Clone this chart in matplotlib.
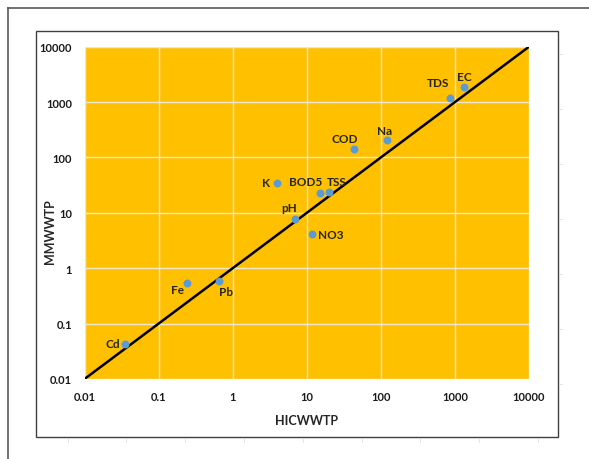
import numpy as np
import matplotlib.pyplot as plt
from matplotlib.patches import Rectangle
from matplotlib.lines import Line2D

# parameter values: HICWWTP (x) vs MMWWTP (y)
names = ['Cd', 'Fe', 'Pb', 'K', 'pH', 'NO3', 'BOD5', 'TSS', 'COD', 'Na', 'TDS', 'EC']
hicwwtp = [0.035, 0.24, 0.65, 4.0, 7.0, 11.8, 14.9, 20.0, 44, 121, 860, 1340]
mmwwtp = [0.043, 0.55, 0.58, 34, 7.7, 4.1, 23, 24, 144, 203, 1165, 1840]
# label offsets (pixels)
label_dx = [-12, -9, 7, -11, -6, 19, -14, 8, -10, -2, -12, 0]
label_dy = [0, -7, -10, 1, 12, 0, 11, 10, 10, 10, 16, 11]

decades = [0.01, 0.1, 1, 10, 100, 1000, 10000]
decade_labels = ['0.01', '0.1', '1', '10', '100', '1000', '10000']

plt.rcParams['font.family'] = ['Lato', 'DejaVu Sans']

fig = plt.figure(figsize=(5.89, 4.60), dpi=100)

# document frame and chart border
fig.add_artist(Line2D([8 / 589, 8 / 589], [0, 1 - 9 / 460], transform=fig.transFigure,
                      color='#595959', lw=1.2))
fig.add_artist(Line2D([8 / 589, 1], [1 - 9 / 460, 1 - 9 / 460], transform=fig.transFigure,
                      color='#595959', lw=1.2))
fig.add_artist(Rectangle((35.7 / 589, 1 - 438 / 460), (558 - 35.7) / 589, (438 - 32.3) / 460,
                         transform=fig.transFigure, fill=False, edgecolor='#404040', lw=1.0))
# faint page marks outside the chart border
for px in np.arange(67.5, 589, 58.8):
    fig.add_artist(Line2D([px / 589, px / 589], [1 - 440 / 460, 1 - 443 / 460],
                          transform=fig.transFigure, color='#e4e4e4', lw=0.7))
for py in np.arange(55, 440, 55):
    fig.add_artist(Line2D([559 / 589, 562 / 589], [1 - py / 460, 1 - py / 460],
                          transform=fig.transFigure, color='#e4e4e4', lw=0.7))

ax = fig.add_axes([84.5 / 589, 1 - 380 / 460, (529 - 84.5) / 589, (380 - 47.7) / 460])
ax.set_facecolor('#FFC000')
ax.set_xscale('log')
ax.set_yscale('log')
ax.set_xlim(0.01, 10000)
ax.set_ylim(0.01, 10000)

ax.grid(True, which='major', color='#ece6d2', lw=1.0)
ax.set_axisbelow(True)
for s in ax.spines.values():
    s.set_visible(False)

ax.plot([0.01, 10000], [0.01, 10000], color='black', lw=1.8, zorder=2)
ax.scatter(hicwwtp, mmwwtp, s=22, color='#5B9BD5', zorder=3)

for n, x, y, dx, dy in zip(names, hicwwtp, mmwwtp, label_dx, label_dy):
    ax.annotate(n, (x, y), xytext=(dx, dy), textcoords='offset pixels',
                ha='center', va='center', fontsize=8.5, fontweight='bold',
                color='#262626', zorder=4)

ax.set_xticks(decades)
ax.set_xticklabels(decade_labels)
ax.set_yticks(decades)
ax.set_yticklabels(decade_labels)
ax.minorticks_off()
ax.tick_params(length=0, labelsize=8, labelcolor='#1a1a1a', pad=9)
for lab in ax.get_xticklabels() + ax.get_yticklabels():
    lab.set_fontweight('bold')

ax.set_xlabel('HICWWTP', fontsize=9, fontweight='bold', color='#262626', labelpad=8)
ax.set_ylabel('MMWWTP', fontsize=9, fontweight='bold', color='#262626', va='center')
ax.yaxis.set_label_coords(-0.078, 0.448)

plt.savefig('out.png', dpi=100)
